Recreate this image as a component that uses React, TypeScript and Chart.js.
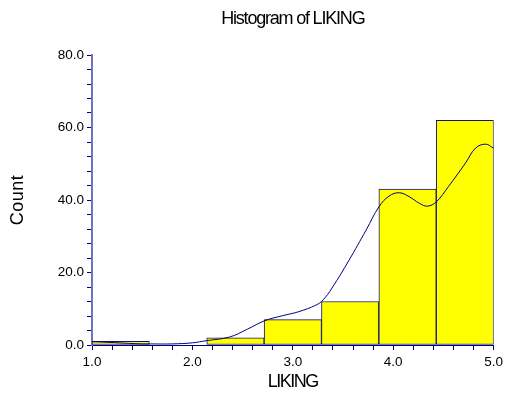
import React, { useEffect, useRef } from 'react';
import { Chart, registerables } from 'chart.js';

Chart.register(...registerables);

const TITLE = 'Histogram of LIKING';
const X_TITLE = 'LIKING';
const Y_TITLE = 'Count';

const binEdges = [1.0, 1.5714, 2.1429, 2.7143, 3.2857, 3.8571, 4.4286, 5.0];
const binCounts = [1, 0, 2, 7, 12, 43, 62];

const curveX = [1.0, 1.15, 1.3, 1.45, 1.58, 1.8, 2.0, 2.14, 2.37, 2.55, 2.72, 2.9, 3.06, 3.23, 3.3, 3.39, 3.56, 3.73, 3.86, 3.96, 4.06, 4.16, 4.26, 4.34, 4.43, 4.55, 4.72, 4.82, 4.92, 5.0];
const curveY = [0.9, 0.75, 0.55, 0.35, 0.3, 0.3, 0.6, 1.2, 2.2, 4.4, 6.7, 8.1, 9.2, 11.0, 12.4, 15.7, 23.4, 31.7, 38.2, 41.1, 42.0, 40.9, 39.1, 38.3, 39.5, 43.7, 50.2, 54.3, 55.4, 54.3];

const xMajorTicks = [1, 2, 3, 4, 5];
const yMajorTicks = [0, 20, 40, 60, 80];

const NAVY = '#000080';
const LABEL_FONT = '"Liberation Sans", Arial, sans-serif';
const TITLE_FONT = '"Liberation Sans", Arial, sans-serif';

const titlesPlugin = {
  id: 'titles',
  afterDraw(chart: any) {
    const { ctx, chartArea } = chart;
    const cx = (chartArea.left + chartArea.right) / 2;
    ctx.save();
    ctx.fillStyle = '#000';
    ctx.textAlign = 'center';
    ctx.textBaseline = 'middle';
    ctx.font = '18px ' + TITLE_FONT;
    (ctx as any).letterSpacing = '-1.2px';
    ctx.fillText(TITLE, cx, 19);
    (ctx as any).letterSpacing = '-1.5px';
    ctx.fillText(X_TITLE, cx, 382);
    (ctx as any).letterSpacing = '0.5px';
    ctx.translate(18.5, (chartArea.top + chartArea.bottom) / 2);
    ctx.rotate(-Math.PI / 2);
    ctx.fillText(Y_TITLE, 0, 0);
    ctx.restore();
  },
};

const isMajor = (v: number, list: number[]) => list.some((m) => Math.abs(m - v) < 1e-6);

export default function App() {
  const ref = useRef<HTMLCanvasElement | null>(null);

  useEffect(() => {
    if (!ref.current) return;
    const barData = binCounts.map((c, i) => ({ x: (binEdges[i] + binEdges[i + 1]) / 2, y: c }));
    const lineData = curveX.map((x, i) => ({ x, y: curveY[i] }));

    const chart = new Chart(ref.current, {
      type: 'bar',
      data: {
        datasets: [
          {
            type: 'line',
            data: lineData,
            xAxisID: 'x',
            borderColor: NAVY,
            borderWidth: 1,
            pointRadius: 0,
            tension: 0.4,
            fill: false,
            order: 0,
          } as any,
          {
            type: 'bar',
            data: barData,
            xAxisID: 'xb',
            grouped: false,
            backgroundColor: '#ffff00',
            borderColor: '#10107a',
            borderWidth: 1,
            borderSkipped: false,
            barPercentage: 1,
            categoryPercentage: 1,
            order: 1,
          } as any,
        ],
      },
      options: {
        animation: false,
        responsive: false,
        maintainAspectRatio: false,
        layout: { padding: { top: 55, right: 12, left: 0, bottom: 0 } },
        plugins: { legend: { display: false }, tooltip: { enabled: false }, title: { display: false } },
        scales: {
          xb: {
            type: 'linear',
            display: false,
            min: binEdges[0],
            max: binEdges[binEdges.length - 1],
            offset: false,
            afterBuildTicks: (s: any) => { s.ticks = []; },
          },
          x: {
            type: 'linear',
            min: 1,
            max: 5,
            offset: false,
            afterFit: (s: any) => { s.height = 51; },
            grid: { display: true, drawOnChartArea: false, drawTicks: true, tickLength: 5, color: NAVY, offset: false },
            border: { display: true, color: NAVY, width: 1 },
            ticks: {
              stepSize: 0.2,
              autoSkip: false,
              maxRotation: 0,
              padding: 4,
              color: '#000',
              font: { family: LABEL_FONT, size: 13.5 },
              callback: (v: any) => (isMajor(Number(v), xMajorTicks) ? Number(v).toFixed(1) : ''),
            },
          },
          y: {
            type: 'linear',
            min: 0,
            max: 80,
            afterFit: (s: any) => { s.width = 92; },
            grid: { display: true, drawOnChartArea: false, drawTicks: true, tickLength: 5, color: NAVY },
            border: { display: true, color: '#7070c0', width: 2 },
            ticks: {
              stepSize: 4,
              autoSkip: false,
              padding: 3,
              color: '#000',
              font: { family: LABEL_FONT, size: 13.5 },
              callback: (v: any) => (isMajor(Number(v), yMajorTicks) ? Number(v).toFixed(1) : ''),
            },
          },
        },
      } as any,
      plugins: [titlesPlugin],
    });
    return () => chart.destroy();
  }, []);

  return (
    <div style={{ position: 'absolute', left: 0, top: 0, width: 507, height: 396 }}>
      <canvas ref={ref} width={507} height={396} style={{ width: 507, height: 396 }} />
    </div>
  );
}
